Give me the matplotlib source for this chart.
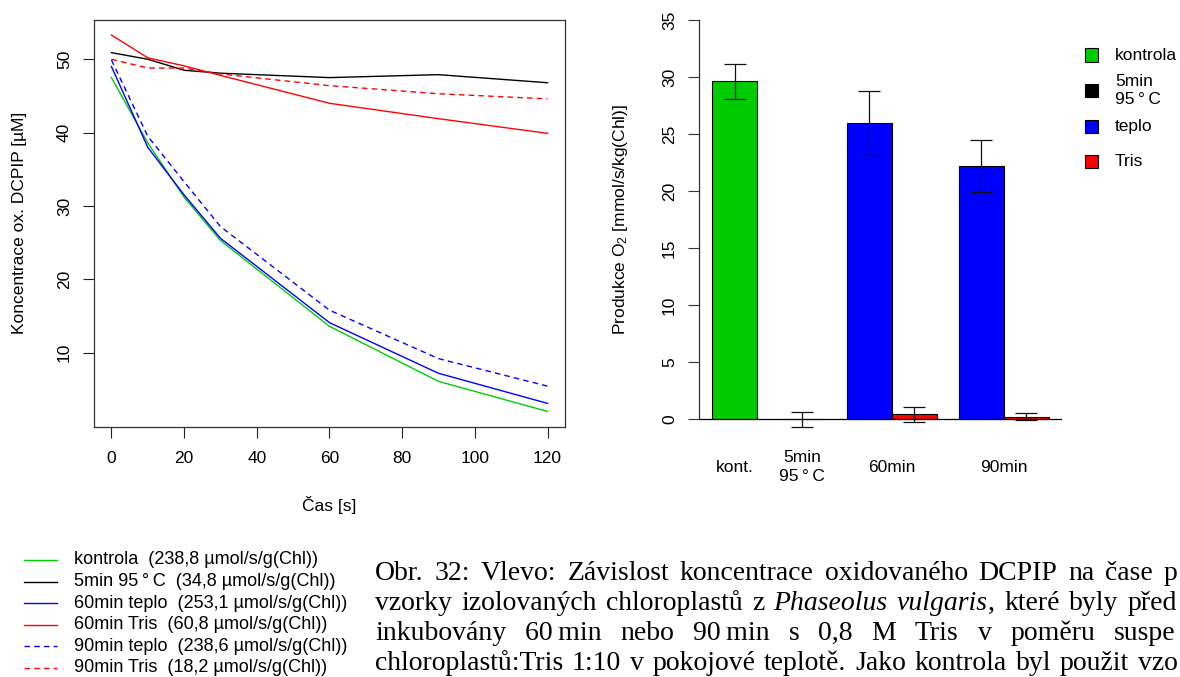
import matplotlib
matplotlib.use('Agg')
import matplotlib.pyplot as plt
from matplotlib.lines import Line2D
from matplotlib.patches import Rectangle
import matplotlib.transforms as mtransforms

plt.rcParams['font.family'] = ['Liberation Sans', 'DejaVu Sans']
plt.rcParams['mathtext.fontset'] = 'custom'
plt.rcParams['mathtext.rm'] = 'Liberation Sans'
plt.rcParams['mathtext.it'] = 'Liberation Sans:italic'

# ---------------- data ----------------
time_s = [0, 10, 20, 30, 60, 90, 120]
kontrola = [47.5, 38.6, 31.2, 25.3, 13.6, 6.1, 2.0]
min5_95C = [50.9, 50.0, 48.5, 48.1, 47.5, 47.9, 46.8]
teplo_60 = [49.0, 38.0, 31.5, 25.6, 14.1, 7.2, 3.1]
tris_60 = [53.3, 50.2, 49.1, 47.8, 44.0, 41.9, 39.9]
teplo_90 = [49.9, 39.5, 33.3, 27.2, 15.8, 9.2, 5.45]
tris_90 = [50.0, 48.8, 48.8, 48.0, 46.4, 45.3, 44.6]

line_labels = ["kontrola  (238,8 \u00b5mol/s/g(Chl))",
               "5min 95\u2009\u00b0\u2009C  (34,8 \u00b5mol/s/g(Chl))",
               "60min teplo  (253,1 \u00b5mol/s/g(Chl))",
               "60min Tris  (60,8 \u00b5mol/s/g(Chl))",
               "90min teplo  (238,6 \u00b5mol/s/g(Chl))",
               "90min Tris  (18,2 \u00b5mol/s/g(Chl))"]

bar_values = [29.63, 0.0, 25.97, 0.45, 22.22, 0.24]
bar_errors = [1.52, 0.65, 2.80, 0.65, 2.30, 0.34]
bar_group_labels = ["kont.", "5min\n95\u2009\u00b0\u2009C", "60min", "90min"]
bar_legend_labels = ["kontrola", "5min\n95\u2009\u00b0\u2009C", "teplo", "Tris"]

x_ticks_left = [0, 20, 40, 60, 80, 100, 120]
y_ticks_left = [10, 20, 30, 40, 50]
y_ticks_right = [0, 5, 10, 15, 20, 25, 30, 35]

GREEN, BLACK, BLUE, RED = '#00CD00', '#000000', '#0000FF', '#FF0000'

# ---------------- figure ----------------
W, H = 1180, 677
fig = plt.figure(figsize=(W / 100, H / 100), dpi=100)


def fx(p):
    return p / W


def fy(p):
    return 1 - p / H


FS = 12.5
TICKLEN = 7.9

# ---------------- left: line chart ----------------
axL = fig.add_axes([fx(94), fy(426.5), (565 - 94) / W, (426.5 - 20) / H])
dash = (0, (4, 3))
series = [(kontrola, GREEN, '-'), (min5_95C, BLACK, '-'), (teplo_60, BLUE, '-'),
          (tris_60, RED, '-'), (teplo_90, BLUE, dash), (tris_90, RED, dash)]
for vals, col, ls in series:
    axL.plot(time_s, vals, color=col, linestyle=ls, lw=1.0)
axL.set_xlim(-4.8, 124.8)
axL.set_ylim(-0.05, 55.35)
axL.set_xticks(x_ticks_left)
axL.set_yticks(y_ticks_left)
axL.tick_params(axis='both', length=TICKLEN, width=0.8, labelsize=FS, color='#222222')
axL.tick_params(axis='x', pad=9.5)
axL.tick_params(axis='y', pad=8, labelrotation=90)
for lab in axL.get_yticklabels():
    lab.set_va('center')
for sp in axL.spines.values():
    sp.set_linewidth(0.9)
    sp.set_color('#333333')
axL.set_xlabel("\u010cas [s]", fontsize=FS)
axL.xaxis.label.set_va('center')
axL.xaxis.set_label_coords(0.5, (426.5 - 505) / 406.5)
axL.set_ylabel("Koncentrace ox. DCPIP [\u00b5M]", fontsize=FS)
axL.yaxis.label.set_va('center')
axL.yaxis.set_label_coords((19 - 94) / 471, 0.5)

# ---------------- right: bar chart ----------------
axR = fig.add_axes([fx(699), fy(435.3), (1062 - 699) / W, 431.3 / H])
spaces = [0, 0.5, 0.5, 0, 0.5, 0]
groups = [[0], [1], [2, 3], [4, 5]]
bar_colors = [GREEN, BLACK, BLUE, RED, BLUE, RED]
lefts = []
cur = 0.0
for s in spaces:
    cur += s
    lefts.append(cur)
    cur += 1.0
centers = [l + 0.5 for l in lefts]
axR.bar(centers, bar_values, width=1.0, color=bar_colors, edgecolor='black', linewidth=0.8,
        yerr=bar_errors, capsize=8.2,
        error_kw=dict(elinewidth=0.9, capthick=0.9, ecolor='#111111'))
axR.axhline(0, color='black', lw=0.9, zorder=3)
axR.set_xlim(-0.3, 7.8)
axR.set_ylim(-1.4, 36.4)
axR.set_yticks(y_ticks_right)
axR.set_xticks([])
for side in ['top', 'right', 'bottom']:
    axR.spines[side].set_visible(False)
axR.spines['left'].set_bounds(0, 35)
axR.spines['left'].set_linewidth(0.9)
axR.spines['left'].set_color('#333333')
axR.tick_params(axis='y', length=TICKLEN, width=0.8, labelsize=FS, pad=8, labelrotation=90,
                color='#333333')
for lab in axR.get_yticklabels():
    lab.set_va('center')
axR.set_ylabel("Produkce O$_2$ [mmol/s/kg(Chl)]", fontsize=FS)
axR.yaxis.label.set_va('center')
axR.yaxis.set_label_coords((620 - 699) / 363, 0.5)
trans = mtransforms.blended_transform_factory(axR.transData, axR.transAxes)
for lab, g in zip(bar_group_labels, groups):
    xc = sum(centers[i] for i in g) / len(g)
    axR.text(xc, (435.3 - 467) / 431.3, lab, transform=trans, ha='center', va='center',
             fontsize=FS, linespacing=1.3)

# right legend
leg_colors = [GREEN, BLACK, BLUE, RED]
leg_y = [55, 90.5, 126, 161]
for lab, col, yy in zip(bar_legend_labels, leg_colors, leg_y):
    fig.add_artist(Rectangle((fx(1085), fy(yy + 6.5)), 13 / W, 13 / H, transform=fig.transFigure,
                             facecolor=col, edgecolor='black', linewidth=0.8))
    fig.text(fx(1115), fy(yy), lab, ha='left', va='center', fontsize=FS, linespacing=1.3)

# bottom legend
line_styles = [(GREEN, '-'), (BLACK, '-'), (BLUE, '-'), (RED, '-'), (BLUE, dash), (RED, dash)]
for i, (lab, (col, ls)) in enumerate(zip(line_labels, line_styles)):
    yy = 560 + 21.6 * i
    fig.add_artist(Line2D([fx(24), fx(57)], [fy(yy), fy(yy)], transform=fig.transFigure,
                          color=col, linestyle=ls, lw=1.0))
    fig.text(fx(74), fy(yy), lab, ha='left', va='center', fontsize=13)

# ---------------- caption (justified lines, cut at the page edge as in the source) ----------------
R = 'normal'
I = 'italic'
caption_lines = [
    ([[("Obr.", R)], [("32:", R)], [("Vlevo:", R)], [("Z\u00e1vislost", R)], [("koncentrace", R)],
      [("oxidovan\u00e9ho", R)], [("DCPIP", R)], [("na", R)], [("\u010dase", R)], [("p", R)]], 1164, 580),
    ([[("vzorky", R)], [("izolovan\u00fdch", R)], [("chloroplast\u016f", R)], [("z", R)],
      [("Phaseolus", I)], [("vulgaris", I), (",", R)], [("kter\u00e9", R)], [("byly", R)],
      [("p\u0159ed", R)]], 1128, 610),
    ([[("inkubov\u00e1ny", R)], [("60\u2009min", R)], [("nebo", R)], [("90\u2009min", R)], [("s", R)],
      [("0,8", R)], [("M", R)], [("Tris", R)], [("v", R)], [("pom\u011bru", R)], [("suspe", R)]], 1114, 640),
    ([[("chloroplast\u016f:Tris", R)], [("1:10", R)], [("v", R)], [("pokojov\u00e9", R)],
      [("teplot\u011b.", R)], [("Jako", R)], [("kontrola", R)], [("byl", R)], [("pou\u017eit", R)],
      [("vzo", R)]], 1138, 670),
]
CFS = 20
SERIF = ['Liberation Serif', 'DejaVu Serif']
renderer = fig.canvas.get_renderer()


def seg_width(txt, style):
    t = fig.text(0, 0, txt, fontsize=CFS, family=SERIF, style=style)
    w = t.get_window_extent(renderer=renderer).width
    t.remove()
    return w


x0 = 375
for words, last_x, base in caption_lines:
    widths = [[seg_width(t, s) for t, s in w] for w in words]
    total = sum(sum(ws) for ws in widths[:-1])
    gap = (last_x - x0 - total) / (len(words) - 1)
    x = x0
    for w, ws in zip(words, widths):
        xx = x
        for (t, s), sw in zip(w, ws):
            fig.text(fx(xx), fy(base), t, fontsize=CFS, family=SERIF,
                     style=s, ha='left', va='baseline')
            xx += sw
        x += sum(ws) + gap

fig.savefig('out.png', dpi=100)
